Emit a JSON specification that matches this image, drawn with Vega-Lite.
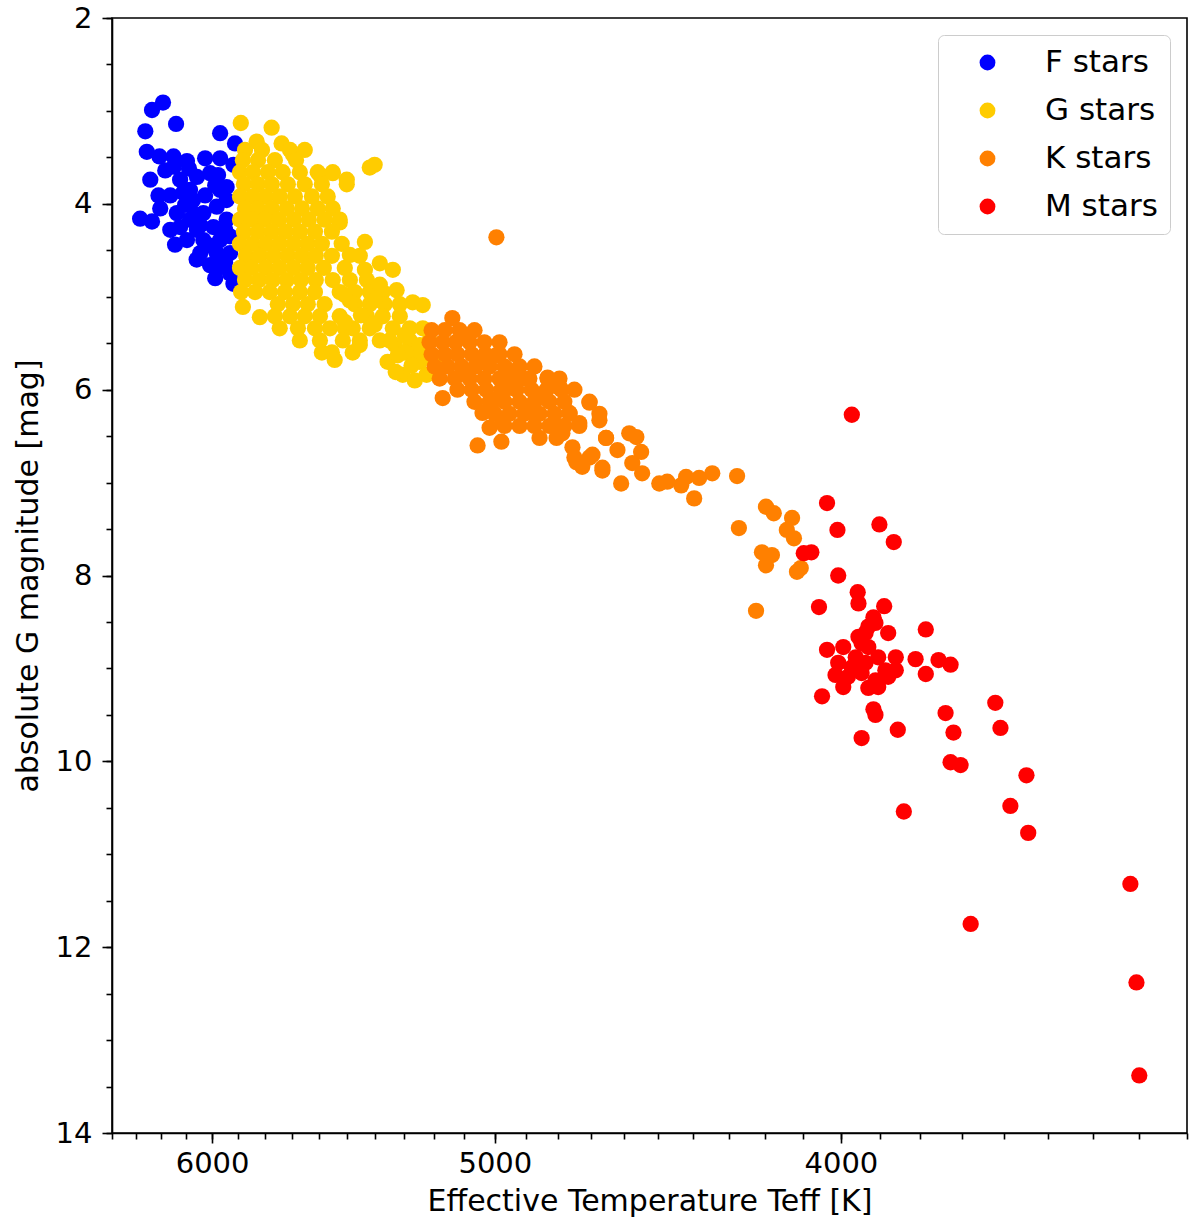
{
  "$schema": "https://vega.github.io/schema/vega-lite/v6.json",
  "width": 1075,
  "height": 1115,
  "autosize": "none",
  "padding": {"left": 112, "top": 18, "right": 13, "bottom": 97},
  "background": "white",
  "config": {
    "view": {"stroke": "black", "strokeWidth": 1.6},
    "axis": {
      "grid": false,
      "domainColor": "black",
      "domainWidth": 1.6,
      "tickColor": "black",
      "tickWidth": 1.6,
      "labelFont": "DejaVu Sans",
      "labelFontSize": 29,
      "labelColor": "black",
      "titleFont": "DejaVu Sans",
      "titleFontSize": 30,
      "titleFontWeight": "normal",
      "titleColor": "black"
    },
    "legend": {
      "orient": "top-right",
      "offset": 17,
      "padding": 12,
      "strokeColor": "#cccccc",
      "fillColor": "white",
      "cornerRadius": 6,
      "labelFont": "DejaVu Sans",
      "labelFontSize": 31,
      "labelColor": "black",
      "symbolType": "circle",
      "symbolSize": 250,
      "symbolStrokeWidth": 0,
      "symbolOpacity": 1,
      "rowPadding": 16,
      "labelOffset": 42,
      "symbolOffset": 22
    }
  },
  "data": {
    "values": [
      {"c":"F","t":6193,"m":2.91},{"c":"F","t":6237,"m":2.99},{"c":"F","t":6141,"m":3.14},{"c":"F","t":6264,"m":3.22},
      {"c":"F","t":5969,"m":3.24},{"c":"F","t":5912,"m":3.35},{"c":"F","t":6258,"m":3.44},{"c":"F","t":6207,"m":3.49},
      {"c":"F","t":6151,"m":3.49},{"c":"F","t":6098,"m":3.54},{"c":"F","t":6027,"m":3.51},{"c":"F","t":5969,"m":3.51},
      {"c":"F","t":5918,"m":3.58},{"c":"F","t":6244,"m":3.74},{"c":"F","t":6211,"m":3.91},{"c":"F","t":6125,"m":3.74},
      {"c":"F","t":6059,"m":3.71},{"c":"F","t":6008,"m":3.67},{"c":"F","t":5944,"m":3.82},{"c":"F","t":6204,"m":4.05},
      {"c":"F","t":6285,"m":4.16},{"c":"F","t":6237,"m":4.19},{"c":"F","t":6138,"m":4.10},{"c":"F","t":6086,"m":4.17},
      {"c":"F","t":6034,"m":4.10},{"c":"F","t":5982,"m":4.03},{"c":"F","t":5944,"m":3.96},{"c":"F","t":6125,"m":4.25},
      {"c":"F","t":6059,"m":4.28},{"c":"F","t":5995,"m":4.25},{"c":"F","t":5944,"m":4.17},{"c":"F","t":6098,"m":4.39},
      {"c":"F","t":6034,"m":4.39},{"c":"F","t":5969,"m":4.39},{"c":"F","t":5931,"m":4.35},{"c":"F","t":6046,"m":4.53},
      {"c":"F","t":5982,"m":4.53},{"c":"F","t":5931,"m":4.53},{"c":"F","t":5969,"m":4.68},{"c":"F","t":5931,"m":4.75},
      {"c":"F","t":5918,"m":4.86},{"c":"F","t":6113,"m":3.88},{"c":"F","t":6074,"m":3.96},{"c":"F","t":6164,"m":3.91},
      {"c":"F","t":6086,"m":4.01},{"c":"F","t":6027,"m":3.91},{"c":"F","t":5969,"m":3.85},{"c":"F","t":6164,"m":4.28},
      {"c":"F","t":6008,"m":4.45},{"c":"F","t":5950,"m":4.63},{"c":"F","t":5988,"m":4.80},{"c":"F","t":5977,"m":3.69},
      {"c":"F","t":6090,"m":3.62},{"c":"F","t":6150,"m":3.60},{"c":"F","t":6060,"m":4.60},
      {"c":"F","t":6184,"m":3.64},{"c":"F","t":6086,"m":3.85},{"c":"F","t":6046,"m":4.23},{"c":"F","t":6145,"m":4.44},
      {"c":"F","t":6008,"m":4.66},{"c":"F","t":6066,"m":4.12},{"c":"F","t":5988,"m":3.80},{"c":"F","t":5950,"m":4.28},
      {"c":"F","t":6105,"m":4.01},

      {"c":"G","t":5890,"m":3.13},{"c":"G","t":5774,"m":3.18},{"c":"G","t":5830,"m":3.33},{"c":"G","t":5737,"m":3.35},
      {"c":"G","t":5695,"m":3.47},{"c":"G","t":5403,"m":3.58},{"c":"G","t":5420,"m":3.61},{"c":"G","t":5597,"m":3.69},
      {"c":"G","t":5551,"m":3.67},{"c":"G","t":5501,"m":3.74},{"c":"G","t":5526,"m":4.20},{"c":"G","t":5437,"m":4.41},
      {"c":"G","t":5385,"m":4.64},{"c":"G","t":5340,"m":4.71},{"c":"G","t":5327,"m":4.93},{"c":"G","t":5272,"m":5.06},
      {"c":"G","t":5238,"m":5.09},{"c":"G","t":5882,"m":5.11},{"c":"G","t":5818,"m":5.22},
      {"c":"G","t":5874,"m":3.42},{"c":"G","t":5810,"m":3.42},{"c":"G","t":5706,"m":3.42},{"c":"G","t":5652,"m":3.42},
      {"c":"G","t":5882,"m":3.53},{"c":"G","t":5825,"m":3.53},{"c":"G","t":5762,"m":3.53},{"c":"G","t":5684,"m":3.53},
      {"c":"G","t":5893,"m":3.66},{"c":"G","t":5844,"m":3.66},{"c":"G","t":5788,"m":3.66},{"c":"G","t":5733,"m":3.66},
      {"c":"G","t":5670,"m":3.66},{"c":"G","t":5605,"m":3.66},{"c":"G","t":5551,"m":3.66},
      {"c":"G","t":5878,"m":3.79},{"c":"G","t":5825,"m":3.79},{"c":"G","t":5773,"m":3.79},{"c":"G","t":5714,"m":3.79},
      {"c":"G","t":5652,"m":3.79},{"c":"G","t":5590,"m":3.79},{"c":"G","t":5501,"m":3.79},
      {"c":"G","t":5893,"m":3.92},{"c":"G","t":5844,"m":3.92},{"c":"G","t":5795,"m":3.92},{"c":"G","t":5744,"m":3.92},
      {"c":"G","t":5688,"m":3.92},{"c":"G","t":5626,"m":3.92},{"c":"G","t":5569,"m":3.92},
      {"c":"G","t":5874,"m":4.05},{"c":"G","t":5825,"m":4.05},{"c":"G","t":5773,"m":4.05},{"c":"G","t":5718,"m":4.05},
      {"c":"G","t":5662,"m":4.05},{"c":"G","t":5605,"m":4.05},{"c":"G","t":5551,"m":4.05},
      {"c":"G","t":5893,"m":4.17},{"c":"G","t":5848,"m":4.17},{"c":"G","t":5799,"m":4.17},{"c":"G","t":5747,"m":4.17},
      {"c":"G","t":5692,"m":4.17},{"c":"G","t":5637,"m":4.17},{"c":"G","t":5580,"m":4.17},{"c":"G","t":5526,"m":4.17},
      {"c":"G","t":5878,"m":4.30},{"c":"G","t":5825,"m":4.30},{"c":"G","t":5773,"m":4.30},{"c":"G","t":5722,"m":4.30},
      {"c":"G","t":5670,"m":4.30},{"c":"G","t":5615,"m":4.30},{"c":"G","t":5554,"m":4.30},
      {"c":"G","t":5893,"m":4.43},{"c":"G","t":5844,"m":4.43},{"c":"G","t":5795,"m":4.43},{"c":"G","t":5744,"m":4.43},
      {"c":"G","t":5692,"m":4.43},{"c":"G","t":5641,"m":4.43},{"c":"G","t":5590,"m":4.43},{"c":"G","t":5519,"m":4.43},
      {"c":"G","t":5870,"m":4.56},{"c":"G","t":5818,"m":4.56},{"c":"G","t":5766,"m":4.56},{"c":"G","t":5714,"m":4.56},
      {"c":"G","t":5662,"m":4.56},{"c":"G","t":5612,"m":4.56},{"c":"G","t":5554,"m":4.56},{"c":"G","t":5455,"m":4.56},
      {"c":"G","t":5893,"m":4.69},{"c":"G","t":5848,"m":4.69},{"c":"G","t":5795,"m":4.69},{"c":"G","t":5744,"m":4.69},
      {"c":"G","t":5692,"m":4.69},{"c":"G","t":5641,"m":4.69},{"c":"G","t":5583,"m":4.69},{"c":"G","t":5508,"m":4.69},
      {"c":"G","t":5874,"m":4.82},{"c":"G","t":5821,"m":4.82},{"c":"G","t":5770,"m":4.82},{"c":"G","t":5718,"m":4.82},
      {"c":"G","t":5666,"m":4.82},{"c":"G","t":5612,"m":4.82},{"c":"G","t":5551,"m":4.82},{"c":"G","t":5490,"m":4.82},
      {"c":"G","t":5430,"m":4.82},
      {"c":"G","t":5889,"m":4.95},{"c":"G","t":5836,"m":4.95},{"c":"G","t":5781,"m":4.95},{"c":"G","t":5725,"m":4.95},
      {"c":"G","t":5670,"m":4.95},{"c":"G","t":5615,"m":4.95},{"c":"G","t":5526,"m":4.95},{"c":"G","t":5375,"m":4.95},
      {"c":"G","t":5473,"m":4.95},{"c":"G","t":5420,"m":4.95},
      {"c":"G","t":5751,"m":5.08},{"c":"G","t":5695,"m":5.08},{"c":"G","t":5641,"m":5.08},{"c":"G","t":5580,"m":5.08},
      {"c":"G","t":5473,"m":5.08},{"c":"G","t":5420,"m":5.08},{"c":"G","t":5368,"m":5.08},{"c":"G","t":5316,"m":5.08},
      {"c":"G","t":5762,"m":5.21},{"c":"G","t":5706,"m":5.21},{"c":"G","t":5652,"m":5.21},{"c":"G","t":5597,"m":5.21},
      {"c":"G","t":5526,"m":5.21},{"c":"G","t":5430,"m":5.21},{"c":"G","t":5375,"m":5.21},{"c":"G","t":5316,"m":5.21},
      {"c":"G","t":5744,"m":5.34},{"c":"G","t":5677,"m":5.34},{"c":"G","t":5615,"m":5.34},{"c":"G","t":5561,"m":5.34},
      {"c":"G","t":5508,"m":5.34},{"c":"G","t":5340,"m":5.34},{"c":"G","t":5282,"m":5.34},{"c":"G","t":5238,"m":5.34},
      {"c":"G","t":5480,"m":5.34},{"c":"G","t":5420,"m":5.34},
      {"c":"G","t":5670,"m":5.47},{"c":"G","t":5597,"m":5.47},{"c":"G","t":5515,"m":5.47},{"c":"G","t":5455,"m":5.47},
      {"c":"G","t":5282,"m":5.47},{"c":"G","t":5215,"m":5.47},{"c":"G","t":5385,"m":5.47},{"c":"G","t":5333,"m":5.52},
      {"c":"G","t":5590,"m":5.60},{"c":"G","t":5554,"m":5.60},{"c":"G","t":5480,"m":5.60},{"c":"G","t":5299,"m":5.60},
      {"c":"G","t":5259,"m":5.60},{"c":"G","t":5358,"m":5.70},{"c":"G","t":5248,"m":5.70},{"c":"G","t":5198,"m":5.70},
      {"c":"G","t":5306,"m":5.84},{"c":"G","t":5225,"m":5.84},{"c":"G","t":5265,"m":5.90},
      {"c":"G","t":5490,"m":5.04},{"c":"G","t":5451,"m":5.20},{"c":"G","t":5508,"m":5.27},{"c":"G","t":5403,"m":5.30},
      {"c":"G","t":5351,"m":5.47},{"c":"G","t":5455,"m":5.52},{"c":"G","t":5299,"m":5.41},{"c":"G","t":5323,"m":5.63},
      {"c":"G","t":5276,"m":5.74},{"c":"G","t":5403,"m":5.04},{"c":"G","t":5508,"m":4.98},{"c":"G","t":5437,"m":4.71},
      {"c":"G","t":5490,"m":4.55},{"c":"G","t":5385,"m":4.87},{"c":"G","t":5544,"m":5.68},{"c":"G","t":5330,"m":5.81},
      {"c":"G","t":5248,"m":5.52},

      {"c":"K","t":5139,"m":5.23},{"c":"K","t":5089,"m":5.44},{"c":"K","t":4995,"m":4.36},{"c":"K","t":5171,"m":6.09},
      {"c":"K","t":5040,"m":6.25},{"c":"K","t":5017,"m":6.41},{"c":"K","t":4976,"m":6.36},{"c":"K","t":5056,"m":6.60},
      {"c":"K","t":4979,"m":6.56},{"c":"K","t":4756,"m":6.62},{"c":"K","t":4744,"m":6.78},{"c":"K","t":4704,"m":6.73},
      {"c":"K","t":4665,"m":6.87},{"c":"K","t":4585,"m":6.47},{"c":"K","t":4564,"m":6.51},{"c":"K","t":4550,"m":6.67},
      {"c":"K","t":4576,"m":6.79},{"c":"K","t":4547,"m":6.90},{"c":"K","t":4609,"m":7.01},{"c":"K","t":4497,"m":7.01},
      {"c":"K","t":4796,"m":5.98},{"c":"K","t":4765,"m":6.25},{"c":"K","t":4735,"m":6.36},{"c":"K","t":4674,"m":6.33},
      {"c":"K","t":4787,"m":6.47},{"c":"K","t":4654,"m":6.52},{"c":"K","t":4620,"m":6.65},{"c":"K","t":4750,"m":6.73},
      {"c":"K","t":4695,"m":6.70},{"c":"K","t":4726,"m":6.83},{"c":"K","t":4665,"m":6.84},{"c":"K","t":4474,"m":6.99},
      {"c":"K","t":4434,"m":7.03},{"c":"K","t":4420,"m":6.94},{"c":"K","t":4383,"m":6.95},{"c":"K","t":4346,"m":6.90},
      {"c":"K","t":4397,"m":7.17},{"c":"K","t":4277,"m":6.93},{"c":"K","t":4198,"m":7.26},{"c":"K","t":4177,"m":7.33},
      {"c":"K","t":4128,"m":7.38},{"c":"K","t":4272,"m":7.49},{"c":"K","t":4142,"m":7.51},{"c":"K","t":4123,"m":7.60},
      {"c":"K","t":4209,"m":7.75},{"c":"K","t":4182,"m":7.78},{"c":"K","t":4198,"m":7.89},{"c":"K","t":4115,"m":7.96},
      {"c":"K","t":4105,"m":7.92},{"c":"K","t":4225,"m":8.38},
      {"c":"K","t":4996,"m":5.63},{"c":"K","t":4964,"m":5.77},{"c":"K","t":4912,"m":5.88},{"c":"K","t":4833,"m":5.87},
      {"c":"K","t":4796,"m":5.97},{"c":"K","t":4704,"m":6.14},
      {"c":"K","t":5208,"m":5.36},{"c":"K","t":5164,"m":5.36},{"c":"K","t":5115,"m":5.36},{"c":"K","t":5066,"m":5.36},
      {"c":"K","t":5215,"m":5.49},{"c":"K","t":5171,"m":5.49},{"c":"K","t":5128,"m":5.49},{"c":"K","t":5082,"m":5.49},
      {"c":"K","t":5034,"m":5.49},{"c":"K","t":4985,"m":5.49},
      {"c":"K","t":5208,"m":5.62},{"c":"K","t":5164,"m":5.62},{"c":"K","t":5122,"m":5.62},{"c":"K","t":5075,"m":5.62},
      {"c":"K","t":5031,"m":5.62},{"c":"K","t":4985,"m":5.62},{"c":"K","t":4937,"m":5.62},
      {"c":"K","t":5198,"m":5.75},{"c":"K","t":5154,"m":5.75},{"c":"K","t":5108,"m":5.75},{"c":"K","t":5063,"m":5.75},
      {"c":"K","t":5017,"m":5.75},{"c":"K","t":4969,"m":5.75},{"c":"K","t":4921,"m":5.75},{"c":"K","t":4874,"m":5.75},
      {"c":"K","t":5181,"m":5.88},{"c":"K","t":5131,"m":5.88},{"c":"K","t":5082,"m":5.88},{"c":"K","t":5034,"m":5.88},
      {"c":"K","t":4985,"m":5.88},{"c":"K","t":4937,"m":5.88},{"c":"K","t":4890,"m":5.88},{"c":"K","t":4833,"m":5.88},
      {"c":"K","t":4796,"m":5.88},
      {"c":"K","t":5122,"m":6.00},{"c":"K","t":5075,"m":6.00},{"c":"K","t":5028,"m":6.00},{"c":"K","t":4979,"m":6.00},
      {"c":"K","t":4931,"m":6.00},{"c":"K","t":4883,"m":6.00},{"c":"K","t":4836,"m":6.00},{"c":"K","t":4790,"m":6.00},
      {"c":"K","t":4750,"m":6.00},
      {"c":"K","t":5066,"m":6.13},{"c":"K","t":5017,"m":6.13},{"c":"K","t":4969,"m":6.13},{"c":"K","t":4921,"m":6.13},
      {"c":"K","t":4874,"m":6.13},{"c":"K","t":4827,"m":6.13},{"c":"K","t":4781,"m":6.13},{"c":"K","t":4704,"m":6.13},
      {"c":"K","t":5001,"m":6.26},{"c":"K","t":4953,"m":6.26},{"c":"K","t":4906,"m":6.26},{"c":"K","t":4858,"m":6.26},
      {"c":"K","t":4811,"m":6.26},{"c":"K","t":4765,"m":6.26},{"c":"K","t":4674,"m":6.26},
      {"c":"K","t":4969,"m":6.39},{"c":"K","t":4921,"m":6.39},{"c":"K","t":4874,"m":6.39},{"c":"K","t":4827,"m":6.39},
      {"c":"K","t":4781,"m":6.39},{"c":"K","t":4735,"m":6.39},
      {"c":"K","t":4858,"m":6.52},{"c":"K","t":4805,"m":6.52},{"c":"K","t":4654,"m":6.52},
      {"c":"K","t":5098,"m":5.81},{"c":"K","t":4953,"m":5.98},{"c":"K","t":4843,"m":6.09},{"c":"K","t":4890,"m":6.24},
      {"c":"K","t":4811,"m":6.38},{"c":"K","t":5001,"m":6.11},{"c":"K","t":5050,"m":5.68},

      {"c":"M","t":3972,"m":6.27},{"c":"M","t":4036,"m":7.22},{"c":"M","t":4009,"m":7.51},{"c":"M","t":3902,"m":7.45},
      {"c":"M","t":3866,"m":7.64},{"c":"M","t":4097,"m":7.76},{"c":"M","t":4077,"m":7.75},{"c":"M","t":4007,"m":8.00},
      {"c":"M","t":3957,"m":8.18},{"c":"M","t":3955,"m":8.30},{"c":"M","t":4057,"m":8.34},{"c":"M","t":3890,"m":8.33},
      {"c":"M","t":3917,"m":8.45},{"c":"M","t":3912,"m":8.51},{"c":"M","t":3880,"m":8.62},{"c":"M","t":3937,"m":8.62},
      {"c":"M","t":3947,"m":8.73},{"c":"M","t":3787,"m":8.58},{"c":"M","t":4036,"m":8.80},{"c":"M","t":3994,"m":8.77},
      {"c":"M","t":3930,"m":8.77},{"c":"M","t":3861,"m":8.88},{"c":"M","t":3812,"m":8.90},{"c":"M","t":3756,"m":8.91},
      {"c":"M","t":3727,"m":8.96},{"c":"M","t":3787,"m":9.06},{"c":"M","t":4007,"m":8.94},{"c":"M","t":3972,"m":8.99},
      {"c":"M","t":3937,"m":8.94},{"c":"M","t":3905,"m":8.88},{"c":"M","t":3887,"m":9.02},{"c":"M","t":3861,"m":9.02},
      {"c":"M","t":4014,"m":9.07},{"c":"M","t":3982,"m":9.09},{"c":"M","t":3947,"m":9.05},{"c":"M","t":3912,"m":9.13},
      {"c":"M","t":3880,"m":9.09},{"c":"M","t":3994,"m":9.20},{"c":"M","t":3930,"m":9.21},{"c":"M","t":3905,"m":9.20},
      {"c":"M","t":3962,"m":8.88},{"c":"M","t":4049,"m":9.30},{"c":"M","t":3917,"m":9.44},{"c":"M","t":3912,"m":9.50},
      {"c":"M","t":3947,"m":9.75},{"c":"M","t":3856,"m":9.66},{"c":"M","t":3739,"m":9.48},{"c":"M","t":3720,"m":9.69},
      {"c":"M","t":3621,"m":9.37},{"c":"M","t":3609,"m":9.64},{"c":"M","t":3727,"m":10.01},{"c":"M","t":3703,"m":10.04},
      {"c":"M","t":3549,"m":10.15},{"c":"M","t":3841,"m":10.54},{"c":"M","t":3586,"m":10.48},{"c":"M","t":3545,"m":10.77},
      {"c":"M","t":3319,"m":11.32},{"c":"M","t":3679,"m":11.75},{"c":"M","t":3306,"m":12.38},{"c":"M","t":3300,"m":13.38},
      {"c":"M","t":3930,"m":8.55},{"c":"M","t":3955,"m":8.66}
    ]
  },
  "layer": [
    {
      "mark": {"type": "circle", "opacity": 0},
      "encoding": {
        "x": {
          "field": "t", "type": "quantitative",
          "scale": {"type": "log", "domain": [3200, 6400], "reverse": true, "nice": false},
          "axis": {
            "orient": "bottom", "title": null, "labels": false, "domain": false, "tickSize": 6,
            "values": [3200,3300,3400,3500,3600,3700,3800,3900,4000,4100,4200,4300,4400,4500,4600,4700,4800,4900,5000,5100,5200,5300,5400,5500,5600,5700,5800,5900,6000,6100,6200,6300,6400]
          }
        },
        "y": {
          "field": "m", "type": "quantitative",
          "scale": {"domain": [2, 14], "reverse": true, "nice": false, "zero": false},
          "axis": {
            "orient": "left", "title": null, "labels": false, "domain": false, "tickSize": 6,
            "values": [2,2.5,3,3.5,4,4.5,5,5.5,6,6.5,7,7.5,8,8.5,9,9.5,10,10.5,11,11.5,12,12.5,13,13.5,14]
          }
        }
      }
    },
    {
      "mark": {"type": "circle", "opacity": 1, "size": 265, "strokeWidth": 0},
      "encoding": {
        "x": {
          "field": "t", "type": "quantitative",
          "scale": {"type": "log", "domain": [3200, 6400], "reverse": true, "nice": false},
          "axis": {
            "orient": "bottom", "title": "Effective Temperature Teff [K]", "values": [4000, 5000, 6000],
            "format": "d", "tickSize": 10, "labelPadding": 6, "titlePadding": 8, "labelFlush": false
          }
        },
        "y": {
          "field": "m", "type": "quantitative",
          "scale": {"domain": [2, 14], "reverse": true, "nice": false, "zero": false},
          "axis": {
            "orient": "left", "title": "absolute G magnitude [mag]", "values": [2, 4, 6, 8, 10, 12, 14],
            "tickSize": 10, "labelPadding": 10, "titlePadding": 12, "labelFlush": false
          }
        },
        "color": {
          "field": "c", "type": "nominal",
          "scale": {"domain": ["F", "G", "K", "M"], "range": ["#0000ff", "#ffcc00", "#ff8000", "#ff0000"]},
          "legend": {"title": null, "labelExpr": "datum.label + ' stars'"}
        }
      }
    }
  ],
  "resolve": {"axis": {"x": "independent", "y": "independent"}}
}
